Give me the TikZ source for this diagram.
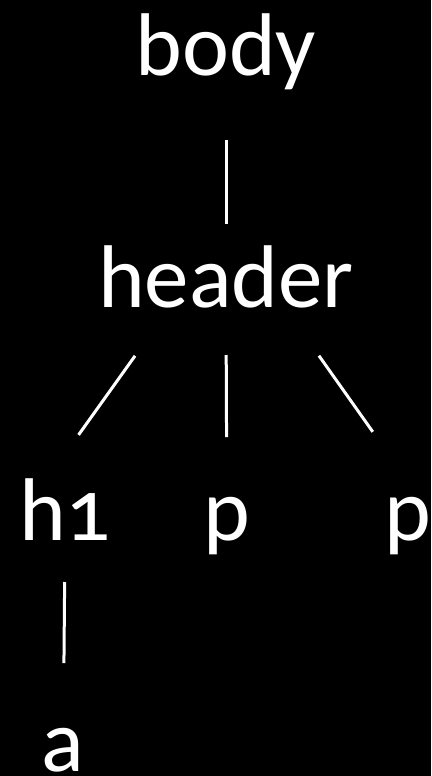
\documentclass[tikz,border=0pt]{standalone}
\usepackage{fontspec}
\setmainfont[Numbers=OldStyle]{Carlito}
\begin{document}
\begin{tikzpicture}[x=1pt,y=-1pt,
  tag/.style={text=white,inner sep=0pt,anchor=base,font=\fontsize{89}{100}\selectfont},
  link/.style={draw=white,line width=3pt}]
\fill[black] (0,0) rectangle (431,776);
% the tree, one level per row
\node[tag] (body) at (226,75) {body};
\node[tag] (header) at (226,307) {header};
\node[tag] (h1) at (65,540) {h1};
\node[tag] (p1) at (227,540) {p};
\node[tag] (p2) at (408,540) {p};
\node[tag] (a) at (63,771) {a};
\draw[link,shorten <=65pt,shorten >=83pt] (body.base) -- (header.base);
\draw[link,shorten <=59pt,shorten >=53pt] (header.209) -- (h1.119);
\draw[link,shorten <=48pt,shorten >=103pt] (header.base) -- (p1.base);
\draw[link,shorten <=58.6pt,shorten >=79.3pt] (header.332.4) -- (p2.70.4);
\draw[link,shorten <=42pt,shorten >=108pt] (h1.base) -- (a.base);
\end{tikzpicture}
\end{document}
